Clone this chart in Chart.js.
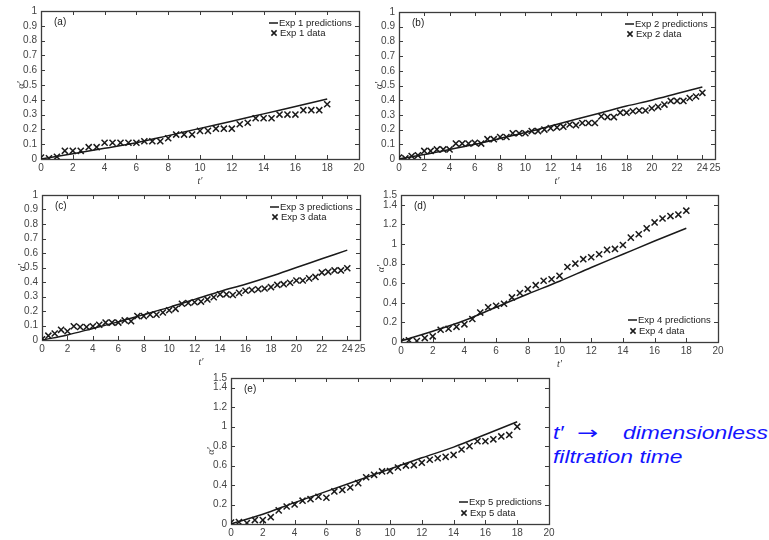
<!DOCTYPE html>
<html>
<head>
<meta charset="utf-8">
<script src="https://cdn.jsdelivr.net/npm/chart.js@4/dist/chart.umd.min.js"></script>
<style>
  html, body { margin:0; padding:0; background:#fff; }
  body { width:769px; height:540px; overflow:hidden; position:relative; }
  canvas { position:absolute; }
  .note { position:absolute; font: italic 18px "Liberation Sans", Arial, sans-serif; color:#1414ff;
          transform: scaleX(1.27); transform-origin: 0 0; line-height:20px; white-space:nowrap; }
  .arrow { font: 18px "DejaVu Sans", sans-serif; transform: scaleX(1.4); }
</style>
</head>
<body>
<div class="note" style="left:553px;top:423px">t′</div>
<div class="note arrow" style="left:577px;top:422px">→</div>
<div class="note" style="left:623px;top:423px">dimensionless</div>
<div class="note" style="left:553px;top:447px">filtration time</div>
<script>
// ---------- tick labels ----------
const xTicks20 = [0,2,4,6,8,10,12,14,16,18,20];
const xTicks25 = [0,2,4,6,8,10,12,14,16,18,20,22,24,25];
const yTicks1  = [0,0.1,0.2,0.3,0.4,0.5,0.6,0.7,0.8,0.9,1];
const yTicks15 = [0,0.2,0.4,0.6,0.8,1,1.2,1.4,1.5];

// ---------- sample times ----------
const tData18 = [0,0.5,1,1.5,2,2.5,3,3.5,4,4.5,5,5.5,6,6.5,7,7.5,8,8.5,9,9.5,10,10.5,11,11.5,12,12.5,13,13.5,14,14.5,15,15.5,16,16.5,17,17.5,18];
const tData24 = [0,0.5,1,1.5,2,2.5,3,3.5,4,4.5,5,5.5,6,6.5,7,7.5,8,8.5,9,9.5,10,10.5,11,11.5,12,12.5,13,13.5,14,14.5,15,15.5,16,16.5,17,17.5,18,18.5,19,19.5,20,20.5,21,21.5,22,22.5,23,23.5,24];
const tLine18 = [0,2,4,6,8,10,12,14,16,18];
const tLine24 = [0,2,4,6,8,10,12,14,16,18,20,22,24];

// ---------- Exp 1 ----------
const exp1Data = [0.01,0.005,0.015,0.055,0.055,0.055,0.08,0.08,0.11,0.11,0.11,0.11,0.11,0.12,0.12,0.12,0.14,0.165,0.165,0.165,0.19,0.19,0.205,0.205,0.205,0.235,0.245,0.275,0.275,0.275,0.30,0.30,0.30,0.33,0.33,0.33,0.37];
const exp1Pred = [0,0.035,0.072,0.11,0.158,0.207,0.255,0.305,0.355,0.405];
// ---------- Exp 2 ----------
const exp2Data = [0.01,0.005,0.02,0.025,0.055,0.055,0.065,0.065,0.065,0.105,0.105,0.105,0.11,0.105,0.135,0.135,0.15,0.15,0.175,0.175,0.175,0.19,0.19,0.20,0.21,0.215,0.22,0.235,0.23,0.245,0.245,0.245,0.29,0.285,0.285,0.315,0.315,0.325,0.33,0.33,0.345,0.355,0.37,0.395,0.395,0.395,0.415,0.425,0.45];
const exp2Pred = [0,0.03,0.065,0.10,0.14,0.18,0.225,0.27,0.315,0.36,0.40,0.445,0.49];
// ---------- Exp 3 ----------
const exp3Data = [0.005,0.03,0.045,0.07,0.06,0.095,0.09,0.09,0.095,0.105,0.12,0.12,0.12,0.135,0.13,0.165,0.165,0.175,0.175,0.19,0.205,0.215,0.25,0.255,0.26,0.265,0.28,0.295,0.315,0.315,0.31,0.325,0.34,0.345,0.35,0.355,0.365,0.38,0.385,0.395,0.41,0.41,0.425,0.435,0.465,0.47,0.48,0.48,0.495];
const exp3Pred = [0,0.035,0.08,0.125,0.175,0.225,0.28,0.335,0.385,0.44,0.50,0.56,0.62];
// ---------- Exp 4 ----------
const exp4Data = [0.007,0.017,0.01,0.04,0.058,0.125,0.135,0.155,0.18,0.235,0.30,0.355,0.37,0.39,0.455,0.50,0.54,0.58,0.625,0.64,0.675,0.765,0.80,0.845,0.865,0.895,0.94,0.95,0.99,1.065,1.10,1.16,1.22,1.26,1.285,1.30,1.34];
const exp4Pred = [0.01,0.11,0.22,0.355,0.49,0.62,0.76,0.895,1.03,1.16];
// ---------- Exp 5 ----------
const exp5Data = [0.015,0.02,0.01,0.04,0.04,0.07,0.14,0.18,0.20,0.24,0.255,0.28,0.27,0.335,0.35,0.375,0.42,0.48,0.505,0.54,0.545,0.58,0.60,0.605,0.63,0.66,0.675,0.69,0.71,0.765,0.80,0.85,0.85,0.87,0.90,0.915,1.0];
const exp5Pred = [0,0.1,0.22,0.335,0.45,0.565,0.68,0.79,0.92,1.05];

const panelTags  = ['(a)','(b)','(c)','(d)','(e)'];
const predLabels = ['Exp 1 predictions','Exp 2 predictions','Exp 3 predictions','Exp 4 predictions','Exp 5 predictions'];
const dataLabels = ['Exp 1 data','Exp 2 data','Exp 3 data','Exp 4 data','Exp 5 data'];

const fmt = v => String(Math.round(v * 100) / 100);
const INK = '#1a1a1a';
const AXIS = '#3c3c3c';
const TICKCOL = '#444';

const framePlugin = {
  id: 'frame',
  beforeDatasetsDraw(chart) {
    const { ctx, chartArea: a, scales: { x, y } } = chart;
    ctx.save();
    ctx.strokeStyle = AXIS;
    ctx.lineWidth = 1;
    ctx.beginPath();
    x.ticks.forEach(t => {
      const px = Math.round(x.getPixelForValue(t.value)) + 0.5;
      ctx.moveTo(px, a.bottom); ctx.lineTo(px, a.bottom - 4);
      ctx.moveTo(px, a.top);    ctx.lineTo(px, a.top + 4);
    });
    y.ticks.forEach(t => {
      const py = Math.round(y.getPixelForValue(t.value)) + 0.5;
      ctx.moveTo(a.left, py);  ctx.lineTo(a.left + 4, py);
      ctx.moveTo(a.right, py); ctx.lineTo(a.right - 4, py);
    });
    ctx.stroke();
    ctx.lineWidth = 1.3;
    ctx.strokeRect(a.left + 0.5, a.top + 0.5, a.right - a.left, a.bottom - a.top);
    ctx.restore();
  },
  afterDatasetsDraw(chart) {
    const o = chart.options.plugins.frame;
    const { ctx, chartArea: a } = chart;
    const ds = chart.data.datasets;
    ctx.save();
    ctx.fillStyle = '#222';
    ctx.textBaseline = 'middle';
    ctx.textAlign = 'left';
    ctx.font = '10px "Liberation Sans", Arial, sans-serif';
    ctx.fillText(o.tag, a.left + 13, a.top + 11);
    ctx.font = '9.5px "Liberation Sans", Arial, sans-serif';
    const r1 = o.legendTop ? a.top + 12 : a.bottom - 22;
    const r2 = o.legendTop ? a.top + 22 : a.bottom - 11;
    ctx.strokeStyle = INK;
    ctx.lineWidth = 1.5;
    ctx.beginPath();
    ctx.moveTo(a.right - 90, r1); ctx.lineTo(a.right - 81, r1);
    const cx = a.right - 85, s = 2.6;
    ctx.moveTo(cx - s, r2 - s); ctx.lineTo(cx + s, r2 + s);
    ctx.moveTo(cx - s, r2 + s); ctx.lineTo(cx + s, r2 - s);
    ctx.stroke();
    ctx.fillText(ds[0].label, a.right - 80, r1);
    ctx.fillText(ds[1].label, a.right - 79, r2);
    ctx.restore();
  }
};

function makePanel(p) {
  const cv = document.createElement('canvas');
  cv.width = p.w; cv.height = p.h;
  cv.style.left = p.x + 'px'; cv.style.top = p.y + 'px';
  cv.style.width = p.w + 'px'; cv.style.height = p.h + 'px';
  document.body.appendChild(cv);
  const lh = 12;
  new Chart(cv, {
    type: 'scatter',
    data: {
      datasets: [
        { label: p.predLabel,
          data: p.lineT.map((t, i) => ({ x: t, y: p.lineY[i] })),
          showLine: true, borderColor: INK, borderWidth: 1.5, pointRadius: 0,
          cubicInterpolationMode: 'monotone', fill: false },
        { label: p.dataLabel,
          data: p.dataT.map((t, i) => ({ x: t, y: p.dataY[i] })),
          pointStyle: 'crossRot', pointRadius: 4.3, borderColor: INK, backgroundColor: INK,
          borderWidth: 1.5, showLine: false }
      ]
    },
    options: {
      responsive: false, animation: false, devicePixelRatio: 1,
      layout: { padding: { left: 0, right: p.padR, top: p.padT, bottom: 0 } },
      plugins: {
        legend: { display: false }, tooltip: { enabled: false },
        frame: { tag: p.tag, legendTop: p.legendTop }
      },
      scales: {
        x: {
          type: 'linear', min: 0, max: p.xTicks[p.xTicks.length - 1],
          grid: { display: false, drawTicks: false }, border: { display: false },
          afterBuildTicks: s => { s.ticks = p.xTicks.map(v => ({ value: v })); },
          afterFit: s => { s.height = p.xH; },
          ticks: { autoSkip: false, maxRotation: 0, padding: 3, color: TICKCOL,
                   font: { family: '"Liberation Sans", Arial, sans-serif', size: 10 },
                   callback: v => fmt(v) },
          title: { display: true, text: 't′', color: '#333',
                   font: { family: '"Liberation Serif", serif', size: 10, style: 'italic' },
                   padding: { top: 0, bottom: p.xH - 22 - lh / 2 } }
        },
        y: {
          type: 'linear', min: 0, max: p.yTicks[p.yTicks.length - 1],
          grid: { display: false, drawTicks: false }, border: { display: false },
          afterBuildTicks: s => { s.ticks = p.yTicks.map(v => ({ value: v })); },
          afterFit: s => { s.width = p.yW; },
          ticks: { autoSkip: false, padding: 4, color: TICKCOL,
                   font: { family: '"Liberation Sans", Arial, sans-serif', size: 10 },
                   callback: v => fmt(v) },
          title: { display: true, text: 'α′', color: '#333',
                   font: { family: '"Liberation Serif", serif', size: 10, style: 'italic' },
                   padding: { top: p.yW - 20 - lh / 2, bottom: 0 } }
        }
      }
    },
    plugins: [framePlugin]
  });
}

// layout: canvas box + axis sizes (pixels)
const panels = [
  { tag: panelTags[0], x: 0,   y: 0,   w: 370, h: 190, yW: 41, xH: 31, padT: 11, padR: 11, legendTop: true,
    xTicks: xTicks20, yTicks: yTicks1, lineT: tLine18, lineY: exp1Pred, dataT: tData18, dataY: exp1Data },
  { tag: panelTags[1], x: 370, y: 0,   w: 399, h: 190, yW: 29, xH: 31, padT: 12, padR: 54, legendTop: true,
    xTicks: xTicks25, yTicks: yTicks1, lineT: tLine24, lineY: exp2Pred, dataT: tData24, dataY: exp2Data },
  { tag: panelTags[2], x: 0,   y: 183, w: 370, h: 188, yW: 42, xH: 31, padT: 12, padR: 10, legendTop: true,
    xTicks: xTicks25, yTicks: yTicks1, lineT: tLine24, lineY: exp3Pred, dataT: tData24, dataY: exp3Data },
  { tag: panelTags[3], x: 370, y: 183, w: 399, h: 190, yW: 31, xH: 31, padT: 12, padR: 51, legendTop: false,
    xTicks: xTicks20, yTicks: yTicks15, lineT: tLine18, lineY: exp4Pred, dataT: tData18, dataY: exp4Data },
  { tag: panelTags[4], x: 180, y: 366, w: 380, h: 189, yW: 51, xH: 31, padT: 12, padR: 11, legendTop: false,
    xTicks: xTicks20, yTicks: yTicks15, lineT: tLine18, lineY: exp5Pred, dataT: tData18, dataY: exp5Data }
];
panels.forEach((p, i) => { p.predLabel = predLabels[i]; p.dataLabel = dataLabels[i]; makePanel(p); });
</script>
</body>
</html>
